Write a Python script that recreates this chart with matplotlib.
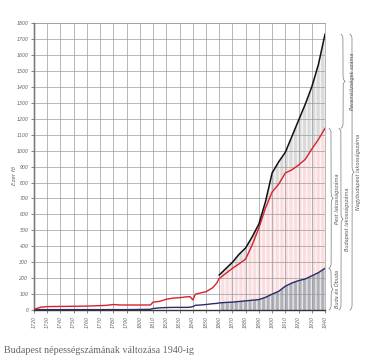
import matplotlib.pyplot as plt
import numpy as np

# population in thousands
years = [1720, 1725, 1730, 1740, 1750, 1760, 1770, 1775, 1780, 1785, 1790, 1800,
         1808, 1810, 1815, 1820, 1825, 1830, 1835, 1838, 1840, 1842, 1846, 1850,
         1855, 1858, 1860, 1865, 1870, 1875, 1880, 1885, 1890, 1895, 1900, 1905,
         1910, 1915, 1920, 1925, 1930, 1935, 1940]
budapest = [5, 18, 22, 23, 24, 25, 28, 30, 35, 32, 32, 32,
            32, 50, 55, 68, 75, 78, 83, 84, 64, 100, 108, 115,
            140, 168, 198, 230, 262, 290, 320, 410, 515, 640, 740, 790,
            860, 880, 910, 945, 1010, 1070, 1140]
buda = [3, 3, 3, 3, 3, 3, 3, 3, 3, 3, 3, 4,
        5, 10, 14, 16, 17, 17, 17, 18, 22, 30, 32, 35,
        40, 42, 45, 48, 50, 54, 58, 62, 66, 80, 100, 118,
        150, 170, 185, 195, 215, 235, 262]
nagy_years = [1860, 1865, 1870, 1875, 1880, 1885, 1890, 1895, 1900, 1905,
              1910, 1915, 1920, 1925, 1930, 1935, 1940]
nagy = [220, 260, 300, 350, 390, 460, 540, 680, 860, 930,
        990, 1090, 1190, 1290, 1400, 1540, 1730]

xticks = list(range(1720, 1941, 10))
yticks = list(range(0, 1801, 100))

caption = "Budapest népességszámának változása 1940-ig"
ylab = "Ezer fő"
braces = [
    # (lower, upper, x of brace, x of text, label)
    (0, buda[-1], 1.021, 1.043, "Buda és Óbuda"),
    (buda[-1], budapest[-1], 1.021, 1.043, "Pest lakosságszáma"),
    (0, budapest[-1], 1.055, 1.078, "Budapest lakosságszáma"),
    (budapest[-1], nagy[-1], 1.062, 1.093, "Peremközségek száma"),
    (0, nagy[-1], 1.093, 1.115, "Nagybudapest lakosságszáma"),
]

plt.rcParams['hatch.linewidth'] = 0.3

fig = plt.figure(figsize=(3.74, 3.61), dpi=100)
ax = fig.add_axes([0.091, 0.141, 0.778, 0.795])

yrs = np.array(years)
bp = np.array(budapest)
bd = np.array(buda)
m = yrs >= 1860
i0 = int(np.argmax(m))

# vertical hatching from 1860 on
ax.fill_between(yrs[m], 0, bd[m], facecolor='none', edgecolor='#44445a',
                hatch='|' * 13, linewidth=0, zorder=1)
ax.fill_between(yrs[m], bd[m], bp[m], facecolor='none', edgecolor='#f2b0b6',
                hatch='|' * 13, linewidth=0, zorder=1)
ax.fill_between(nagy_years, bp[i0:], nagy, facecolor='none', edgecolor='#a8a8a8',
                hatch='|' * 13, linewidth=0, zorder=1)

ax.plot(years, buda, color='#2b2b66', lw=1.0, zorder=4)
ax.plot(years, budapest, color='#d8222e', lw=1.0, zorder=4)
ax.plot(nagy_years, nagy, color='#111111', lw=1.1, zorder=5)

ax.set_xlim(1720, 1940)
ax.set_ylim(0, 1800)
ax.set_xticks(xticks)
ax.set_yticks(yticks)
ax.set_xticklabels([str(x) for x in xticks], rotation=90, fontsize=3.3,
                   style='italic', color='#666666')
ax.set_yticklabels([str(y) for y in yticks], fontsize=3.4, style='italic',
                   color='#666666')
ax.tick_params(length=2, width=0.5, color='#555555', pad=2)
ax.grid(True, color='#9a9a9a', lw=0.5, zorder=2)
ax.set_axisbelow(False)
for s in ['top', 'right']:
    ax.spines[s].set_color('#9a9a9a')
    ax.spines[s].set_linewidth(0.5)
for s in ['left', 'bottom']:
    ax.spines[s].set_color('#333333')
    ax.spines[s].set_linewidth(1.0)

ax.text(-0.068, 0.47, ylab, transform=ax.transAxes, rotation=90, fontsize=4,
        style='italic', color='#666666', ha='center', va='center')

# curly braces on the right
tr = ax.get_yaxis_transform()
for lo, hi, bx, tx, label in braces:
    span = hi - lo
    t = np.linspace(0, 0.5, 300)
    beta = max(span * 0.16, 15)
    half = 1 / (1 + np.exp(-beta * (t - t[0]))) + 1 / (1 + np.exp(-beta * (t - t[-1])))
    shape = np.concatenate([half, half[-2::-1]])
    yy = lo + np.linspace(0, 1, len(shape)) * span
    xx = bx + 0.014 * (shape - 1)
    ax.plot(xx, yy, color='#777777', lw=0.5, transform=tr, clip_on=False)
    ax.text(tx, lo + span / 2, label, transform=tr, rotation=90, fontsize=3.6,
            style='italic', color='#555555', ha='center', va='center')

fig.text(0.011, 0.030, caption, fontsize=7.2, family='Liberation Serif',
         color='#666666', ha='left', va='center')

fig.savefig('out.png', dpi=100)
